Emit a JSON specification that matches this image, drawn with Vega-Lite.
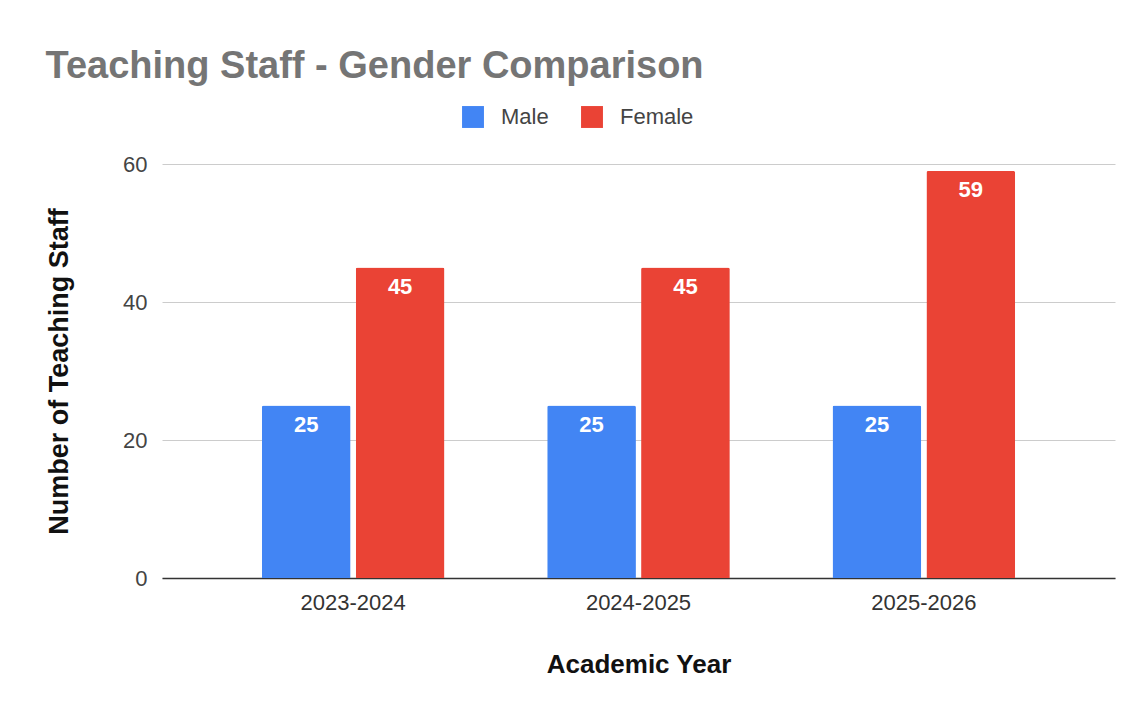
{
  "$schema": "https://vega.github.io/schema/vega-lite/v6.json",
  "autosize": {"type": "none"},
  "width": 953,
  "height": 414,
  "padding": {"left": 162, "top": 164, "right": 25, "bottom": 133},
  "background": "white",
  "title": {
    "text": "Teaching Staff - Gender Comparison",
    "anchor": "start",
    "frame": "bounds",
    "font": "Liberation Sans",
    "fontSize": 38,
    "fontWeight": "bold",
    "color": "#757575",
    "offset": 20
  },
  "data": {
    "values": [
      {"year": "2023-2024", "gender": "Male", "count": 25},
      {"year": "2023-2024", "gender": "Female", "count": 45},
      {"year": "2024-2025", "gender": "Male", "count": 25},
      {"year": "2024-2025", "gender": "Female", "count": 45},
      {"year": "2025-2026", "gender": "Male", "count": 25},
      {"year": "2025-2026", "gender": "Female", "count": 59}
    ]
  },
  "encoding": {
    "x": {
      "field": "year",
      "type": "nominal",
      "title": "Academic Year",
      "scale": {"paddingInner": 0.36, "paddingOuter": 0.35},
      "axis": {
        "labelAngle": 0,
        "labelFont": "Liberation Sans",
        "labelFontSize": 22,
        "labelColor": "#333333",
        "labelPadding": 14,
        "ticks": false,
        "domain": true,
        "domainColor": "#333333",
        "domainWidth": 1.5,
        "titleFont": "Liberation Sans",
        "titleFontSize": 26,
        "titleFontWeight": "bold",
        "titleColor": "#111111",
        "titlePadding": 38
      }
    },
    "xOffset": {
      "field": "gender",
      "type": "nominal",
      "sort": ["Male", "Female"],
      "scale": {"paddingInner": 0.055}
    },
    "y": {
      "field": "count",
      "type": "quantitative",
      "title": "Number of Teaching Staff",
      "scale": {"domain": [0, 60], "nice": false},
      "axis": {
        "values": [0, 20, 40, 60],
        "labelFont": "Liberation Sans",
        "labelFontSize": 22,
        "labelColor": "#444444",
        "labelPadding": 15,
        "ticks": false,
        "domain": false,
        "grid": true,
        "gridColor": "#cccccc",
        "gridWidth": 1,
        "titleFont": "Liberation Sans",
        "titleFontSize": 27,
        "titleFontWeight": "bold",
        "titleColor": "#111111",
        "titlePadding": 49
      }
    }
  },
  "layer": [
    {
      "mark": {"type": "bar", "cornerRadiusTopLeft": 2, "cornerRadiusTopRight": 2},
      "encoding": {
        "color": {
          "field": "gender",
          "type": "nominal",
          "sort": ["Male", "Female"],
          "scale": {"domain": ["Male", "Female"], "range": ["#4285F4", "#EA4335"]},
          "legend": {
            "title": null,
            "orient": "none",
            "direction": "horizontal",
            "legendX": 300,
            "legendY": -58,
            "symbolType": "square",
            "symbolSize": 480,
            "symbolStrokeWidth": 0,
            "symbolOpacity": 1,
            "labelFont": "Liberation Sans",
            "labelFontSize": 22,
            "labelColor": "#444444",
            "labelOffset": 17,
            "columnPadding": 32
          }
        }
      }
    },
    {
      "mark": {
        "type": "text",
        "baseline": "top",
        "dy": 9,
        "font": "Liberation Sans",
        "fontSize": 22,
        "fontWeight": "bold",
        "color": "white"
      },
      "encoding": {
        "text": {"field": "count", "type": "quantitative"}
      }
    }
  ],
  "config": {"view": {"stroke": null}}
}
